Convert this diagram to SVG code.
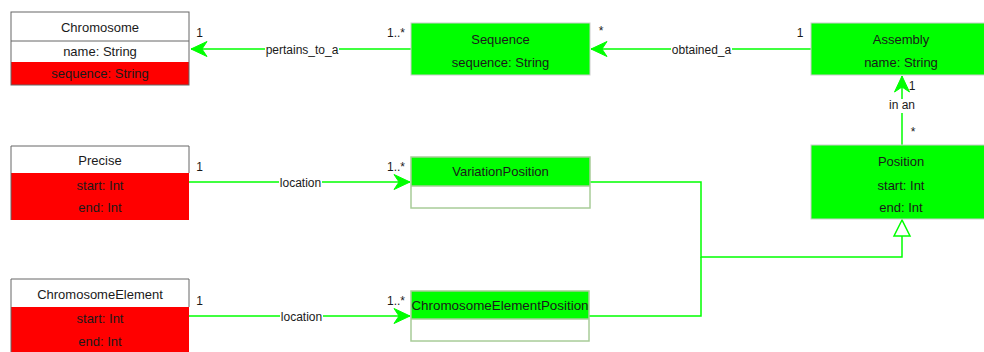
<svg xmlns="http://www.w3.org/2000/svg" width="984" height="352" viewBox="0 0 984 352">
  <style>
    text { font-family: "Liberation Sans", Arial, sans-serif; fill: #1a1a1a; }
    .t { font-size: 13px; text-anchor: middle; dominant-baseline: central; }
    .lbl { font-size: 12px; text-anchor: middle; dominant-baseline: central; }
    .box { stroke: #666666; stroke-width: 1; }
    .white { fill: #ffffff; }
    .red { fill: #ff0000; }
    .green { fill: #00ff00; }
    .gbox { fill: #00ff00; stroke: #cccccc; stroke-width: 1; }
    .pbox { stroke: #a8cc98; stroke-width: 1.5; }
    .conn { fill: none; stroke: #00ff00; stroke-width: 1.5; }
    .bg { fill: #ffffff; }
  </style>
  <defs>
    <marker id="arrow" viewBox="-17 -9 18 18" refX="0" refY="0" markerWidth="18" markerHeight="18" orient="auto" markerUnits="userSpaceOnUse">
      <path d="M0,0 L-16,-7.5 L-11,0 L-16,7.5 Z" fill="#00ff00" stroke="#00ff00" stroke-width="1"/>
    </marker>
    <marker id="inherit" viewBox="-18 -10 20 20" refX="0" refY="0" markerWidth="20" markerHeight="20" orient="auto" markerUnits="userSpaceOnUse">
      <path d="M0,0 L-16,-8 L-16,8 Z" fill="#ffffff" stroke="#00ff00" stroke-width="1.5"/>
    </marker>
  </defs>

  <!-- Connectors -->
  <g id="connectors">
    <line class="conn" x1="411" y1="49" x2="191" y2="49" marker-end="url(#arrow)"/>
    <line class="conn" x1="811" y1="49" x2="591" y2="49" marker-end="url(#arrow)"/>
    <line class="conn" x1="902" y1="145" x2="902" y2="76" marker-end="url(#arrow)"/>
    <line class="conn" x1="189" y1="182" x2="410" y2="182" marker-end="url(#arrow)"/>
    <line class="conn" x1="189" y1="316" x2="410" y2="316" marker-end="url(#arrow)"/>
    <path class="conn" d="M590,182 H701 V257 H902 V220" marker-end="url(#inherit)"/>
    <path class="conn" d="M589,316 H701 V257"/>

    <!-- association labels -->
    <rect class="bg" x="265" y="42" width="74" height="14"/>
    <text class="lbl" x="302" y="49.5">pertains_to_a</text>
    <rect class="bg" x="671" y="42" width="61" height="14"/>
    <text class="lbl" x="701.5" y="49.5">obtained_a</text>
    <rect class="bg" x="888" y="99" width="28" height="14"/>
    <text class="lbl" x="902" y="105">in an</text>
    <rect class="bg" x="279" y="175" width="43" height="14"/>
    <text class="lbl" x="300.5" y="182.5">location</text>
    <rect class="bg" x="280" y="309" width="43" height="14"/>
    <text class="lbl" x="301.5" y="316.5">location</text>

    <!-- multiplicities -->
    <text class="lbl" x="199.5" y="33">1</text>
    <text class="lbl" x="396" y="33">1..*</text>
    <text class="lbl" x="601" y="31">*</text>
    <text class="lbl" x="800" y="33">1</text>
    <text class="lbl" x="912" y="86">1</text>
    <text class="lbl" x="913" y="132">*</text>
    <text class="lbl" x="199.5" y="167">1</text>
    <text class="lbl" x="396" y="167">1..*</text>
    <text class="lbl" x="199.5" y="301">1</text>
    <text class="lbl" x="396" y="301">1..*</text>
  </g>

  <!-- Chromosome -->
  <g id="chromosome">
    <rect class="white" x="11" y="12" width="178" height="50"/>
    <rect class="red" x="11" y="62" width="178" height="23"/>
    <rect class="box" x="11" y="12" width="178" height="73" fill="none"/>
    <line class="box" x1="11" y1="41" x2="189" y2="41"/>
    <text class="t" x="100" y="27">Chromosome</text>
    <text class="t" x="100" y="51.5">name: String</text>
    <text class="t" x="100" y="73.5">sequence: String</text>
  </g>

  <!-- Sequence -->
  <g id="sequence">
    <rect class="gbox" x="411" y="23" width="179" height="52"/>
    <text class="t" x="500.5" y="39">Sequence</text>
    <text class="t" x="500.5" y="62.5">sequence: String</text>
  </g>

  <!-- Assembly -->
  <g id="assembly">
    <rect class="gbox" x="811" y="23" width="180" height="52"/>
    <text class="t" x="901" y="39">Assembly</text>
    <text class="t" x="901" y="62.5">name: String</text>
  </g>

  <!-- Precise -->
  <g id="precise">
    <rect class="white" x="11" y="146" width="178" height="27"/>
    <rect class="red" x="11" y="173" width="178" height="47"/>
    <path class="box" d="M11,220 V146 H189 V173" fill="none"/>
    <text class="t" x="100" y="160.5">Precise</text>
    <text class="t" x="100" y="185.5">start: Int</text>
    <text class="t" x="100" y="207.5">end: Int</text>
  </g>

  <!-- ChromosomeElement -->
  <g id="chromosome-element">
    <rect class="white" x="11" y="279" width="178" height="28"/>
    <rect class="red" x="11" y="307" width="178" height="46"/>
    <path class="box" d="M11,353 V279 H189 V307" fill="none"/>
    <text class="t" x="100" y="294.5">ChromosomeElement</text>
    <text class="t" x="100" y="318.5">start: Int</text>
    <text class="t" x="100" y="341">end: Int</text>
  </g>

  <!-- VariationPosition -->
  <g id="variation-position">
    <rect class="white" x="411" y="157" width="179" height="51"/>
    <rect class="green" x="411" y="157" width="179" height="29"/>
    <rect class="pbox" x="411" y="157" width="179" height="51" fill="none"/>
    <line class="pbox" x1="411" y1="186" x2="590" y2="186"/>
    <text class="t" x="500.5" y="171.5">VariationPosition</text>
  </g>

  <!-- ChromosomeElementPosition -->
  <g id="chromosome-element-position">
    <rect class="white" x="411" y="291" width="178" height="50"/>
    <rect class="green" x="411" y="291" width="178" height="28"/>
    <rect class="pbox" x="411" y="291" width="178" height="50" fill="none"/>
    <line class="pbox" x1="411" y1="319" x2="589" y2="319"/>
    <text class="t" x="500" y="305" style="font-size:13.4px">ChromosomeElementPosition</text>
  </g>

  <!-- Position -->
  <g id="position">
    <rect class="gbox" x="811" y="145" width="180" height="74"/>
    <text class="t" x="901" y="161">Position</text>
    <text class="t" x="901" y="185.5">start: Int</text>
    <text class="t" x="901" y="207.5">end: Int</text>
  </g>
</svg>
